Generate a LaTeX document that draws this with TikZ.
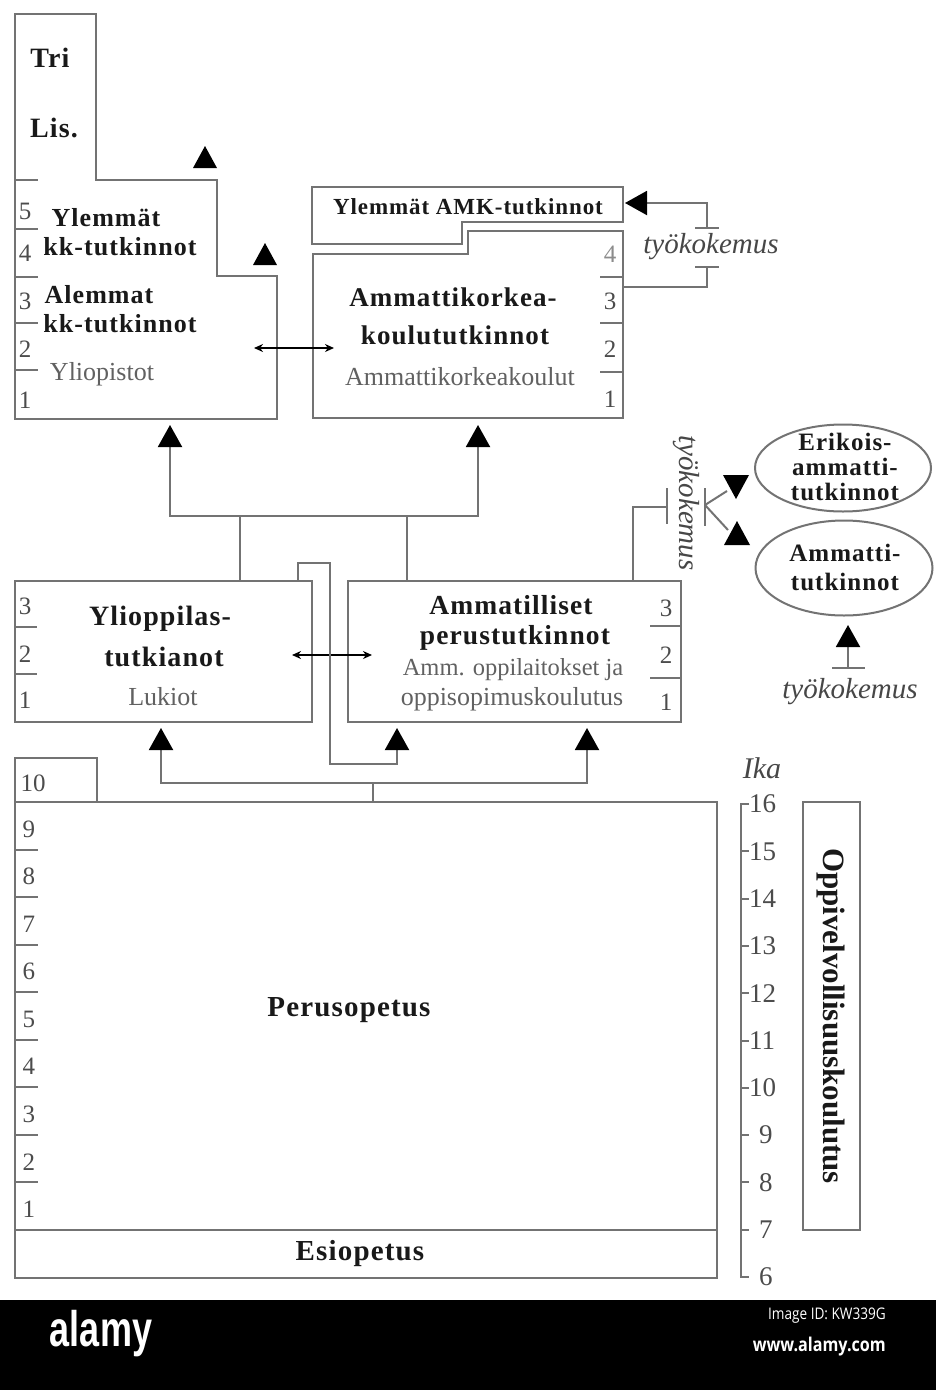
\documentclass[tikz,border=0pt]{standalone}
\usepackage{fontspec}
\setmainfont{Liberation Serif}
\newfontfamily\osans{Open Sans}
\newfontfamily\lsans{Liberation Sans}
\usetikzlibrary{arrows.meta,shapes.geometric}
\newcommand\myfs[1]{\fontsize{#1}{#1}\selectfont}
\newcommand\mybf{\bfseries\addfontfeature{LetterSpace=4}}
\begin{document}
\begin{tikzpicture}[x=1pt,y=-1pt,
  ln/.style={draw=black!55, line width=2pt},
  bx/.style={draw=black!55, line width=2pt},
  up/.style={draw=black!55, line width=2pt, -{Triangle[width=24pt,length=22pt,color=black]}},
  dbl/.style={draw=black, line width=1.6pt, {Stealth[length=9pt,width=8pt]}-{Stealth[length=9pt,width=8pt]}},
  bt/.style={font=\myfs{26}\mybf, text=black!90, inner sep=0pt},
  rt/.style={font=\myfs{26}, text=black!62, inner sep=0pt},
  num/.style={font=\myfs{25}, text=black!70, inner sep=0pt},
  itx/.style={font=\myfs{29}\itshape, text=black!72, inner sep=0pt},
  age/.style={font=\myfs{27}, text=black!70, inner sep=0pt, anchor=west},
  tk/.style={draw=black!55, line width=2pt}
]
\useasboundingbox (0,0) rectangle (936,1390);
\fill[white] (0,0) rectangle (936,1390);

% ---------- Yliopistot (step shape) ----------
\draw[bx] (15,14) -- (96,14) -- (96,180) -- (217,180) -- (217,276) -- (277,276) -- (277,419) -- (15,419) -- cycle;
\foreach \y in {180,229,277,323,370} \draw[tk] (15,\y) -- (38,\y);
\node[bt,font=\myfs{28}\mybf] (tri) at (50,58) {Tri};
\node[bt,font=\myfs{28}\mybf] (lis) at (54,128) {Lis.};
\node[bt] (yl1) at (106,218) {Ylemmät};
\node[bt] (yl2) at (120,247) {kk-tutkinnot};
\node[bt] (al1) at (99,295) {Alemmat};
\node[bt] (al2) at (120,324) {kk-tutkinnot};
\node[rt] (ylio) at (102,374) {Yliopistot};
\node[num] (u5) at (25,211) {5};
\node[num] (u4) at (25,253) {4};
\node[num] (u3) at (25,301) {3};
\node[num] (u2) at (25,349) {2};
\node[num] (u1) at (25,400) {1};
\fill (205,146) -- (217,168) -- (193,168) -- cycle;
\fill (265,243) -- (277,265) -- (253,265) -- cycle;

% ---------- Ylemmät AMK + Ammattikorkeakoulut ----------
\draw[bx] (312,187) -- (623,187) -- (623,222) -- (462,222) -- (462,244) -- (312,244) -- cycle;
\draw[bx] (313,254) -- (468,254) -- (468,231) -- (623,231) -- (623,418) -- (313,418) -- cycle;
\foreach \y in {277,323,372} \draw[tk] (600,\y) -- (623,\y);
\node[bt,font=\myfs{23}\mybf] (ylamk) at (468,207) {Ylemmät AMK-tutkinnot};
\node[bt,font=\myfs{27}\mybf] (amk1) at (453,297) {Ammattikorkea-};
\node[bt,font=\myfs{27}\mybf] (amk2) at (455,335) {koulututkinnot};
\node[rt] (amk3) at (460,377) {Ammattikorkeakoulut};
\node[num,text=black!45] (a4) at (610,254) {4};
\node[num] (a3) at (610,301) {3};
\node[num] (a2) at (610,349) {2};
\node[num] (a1) at (610,399) {1};

% työkokemus -> Ylemmät AMK
\coordinate (ta) at (625,203);
\coordinate (tb) at (707,228);
\coordinate (tc) at (707,267);
\coordinate (td) at (623,287);
\draw[ln, -{Triangle[width=24pt,length=22pt,color=black]}] (tb) -- (707,203) -- (ta);
\draw[tk] (695,228) -- (719,228);
\node[itx] (tk1) at (711,247) {työkokemus};
\draw[tk] (695,267) -- (719,267);
\draw[ln] (tc) -- (707,287) -- (td);

% double arrow universities
\coordinate (da1) at (254,348);
\coordinate (da2) at (334,348);
\draw[dbl] (da1) -- (da2);

% ---------- Ylioppilastutkinnot ----------
\draw[bx] (15,581) rectangle (312,722);
\foreach \y in {627,674} \draw[tk] (15,\y) -- (37,\y);
\node[bt,font=\myfs{28}\mybf] (yo1) at (160,619) {Ylioppilas-};
\node[bt,font=\myfs{28}\mybf] (yo2) at (164,657) {tutkianot};
\node[rt] (luk) at (163,697) {Lukiot};
\node[num] (y3) at (25,606) {3};
\node[num] (y2) at (25,654) {2};
\node[num] (y1) at (25,700) {1};

% ---------- Ammatilliset ----------
\draw[bx] (348,581) rectangle (681,722);
\foreach \y in {626,678} \draw[tk] (650,\y) -- (681,\y);
\node[bt,font=\myfs{27.5}\mybf] (am1) at (511,605) {Ammatilliset};
\node[bt,font=\myfs{27.5}\mybf] (am2) at (515,638) {perustutkinnot};
\node[rt,font=\myfs{24.5}] (am3) at (513,670) {Amm. oppilaitokset ja};
\node[rt] (am4) at (512,699) {oppisopimuskoulutus};
\node[num] (m3) at (666,608) {3};
\node[num] (m2) at (666,655) {2};
\node[num] (m1) at (666,702) {1};

\draw[dbl] (292,655) -- (372,655);

% ---------- connectors middle -> top ----------
\draw[ln] (240,581) -- (240,516);
\draw[ln] (407,581) -- (407,516);
\draw[up] (240,516) -- (170,516) -- (170,425);
\draw[up] (407,516) -- (478,516) -- (478,425);
\draw[ln] (240,516) -- (407,516);

% bypass Ylioppilas -> Ammatilliset
\draw[up] (298,581) -- (298,563) -- (330,563) -- (330,764) -- (397,764) -- (397,728);

% ---------- Perusopetus -> middle ----------
\draw[ln] (373,802) -- (373,783);
\draw[up] (373,783) -- (161,783) -- (161,728);
\draw[up] (373,783) -- (587,783) -- (587,728);

% ---------- Ammatilliset -> erikois / ammatti ----------
\draw[ln] (633,581) -- (633,507) -- (667,507);
\draw[tk] (667,488) -- (667,524);
\node[itx,rotate=-90] (tk2) at (686,503) {työkokemus};
\draw[tk] (705,488) -- (705,526);
\draw[ln] (705,505) -- (727,491);
\draw[ln] (705,505) -- (728,530);
\fill (723,475) -- (749,475) -- (736,499) -- cycle;
\fill (737,521) -- (750,545) -- (724,545) -- cycle;

\node[draw=black!55, line width=2pt, ellipse, minimum width=176pt, minimum height=87pt, inner sep=0pt] (erik) at (843,468) {};
\node[bt,font=\myfs{25}\mybf] at (845,442) {Erikois-};
\node[bt,font=\myfs{25}\mybf] at (845,467) {ammatti-};
\node[bt,font=\myfs{25}\mybf] at (845,492) {tutkinnot};
\node[draw=black!55, line width=2pt, ellipse, minimum width=177pt, minimum height=95pt, inner sep=0pt] (ammt) at (844,568) {};
\node[bt,font=\myfs{25}\mybf] at (845,553) {Ammatti-};
\node[bt,font=\myfs{25}\mybf] at (845,582) {tutkinnot};

\draw[up] (848,668) -- (848,625);
\draw[tk] (832,668) -- (865,668);
\node[itx] (tk3) at (850,692) {työkokemus};

% ---------- Perusopetus ----------
\draw[bx] (15,802) -- (15,758) -- (97,758) -- (97,802);
\node[num] (p10) at (33,783) {10};
\draw[bx] (15,802) rectangle (717,1278);
\draw[ln] (15,1230) -- (717,1230);
\foreach \k in {1,...,8} \draw[tk] (15,{802+47.55*\k}) -- (38,{802+47.55*\k});
\foreach \k/\n in {0/9,1/8,2/7,3/6,4/5,5/4,6/3,7/2,8/1}
  \node[num] at (29,{829+47.55*\k}) {\n};
\node[bt,font=\myfs{29}\mybf] (peru) at (349,1010) {Perusopetus};
\node[bt,font=\myfs{29}\mybf] (esio) at (360,1254) {Esiopetus};

% ---------- Age scale ----------
\node[itx,font=\myfs{30}\itshape] (ika) at (762,768) {Ika};
\draw[ln] (749,804) -- (741,804) -- (741,1277) -- (749,1277);
\foreach \k/\a in {0/16,1/15,2/14,3/13,4/12,5/11,6/10}
  {\draw[tk] (741,{804+47.3*\k}) -- (749,{804+47.3*\k});
   \node[age] at (749,{804+47.3*\k}) {\a};}
\foreach \k/\a in {7/9,8/8,9/7,10/6}
  {\draw[tk] (741,{804+47.3*\k}) -- (749,{804+47.3*\k});
   \node[age] at (759,{804+47.3*\k}) {\a};}

\draw[bx] (803,802) rectangle (860,1230);
\node[bt,font=\myfs{31}\bfseries,rotate=-90] (oppi) at (831,1016) {Oppivelvollisuuskoulutus};

% ---------- bottom bar ----------
\fill[black] (0,1300) rectangle (936,1390);
\node[text=white, inner sep=0pt, font=\lsans\bfseries\myfs{50}] (alamy) at (101,1334) {\scalebox{0.72}[1]{alamy}};
\node[text=white, inner sep=0pt, anchor=east, font=\osans\myfs{16}] (imgid) at (886,1316) {\scalebox{0.85}[1]{Image ID: KW339G}};
\node[text=white, inner sep=0pt, anchor=east, font=\osans\bfseries\myfs{19}] (www) at (886,1347) {\scalebox{0.85}[1]{www.alamy.com}};
\end{tikzpicture}
\end{document}
